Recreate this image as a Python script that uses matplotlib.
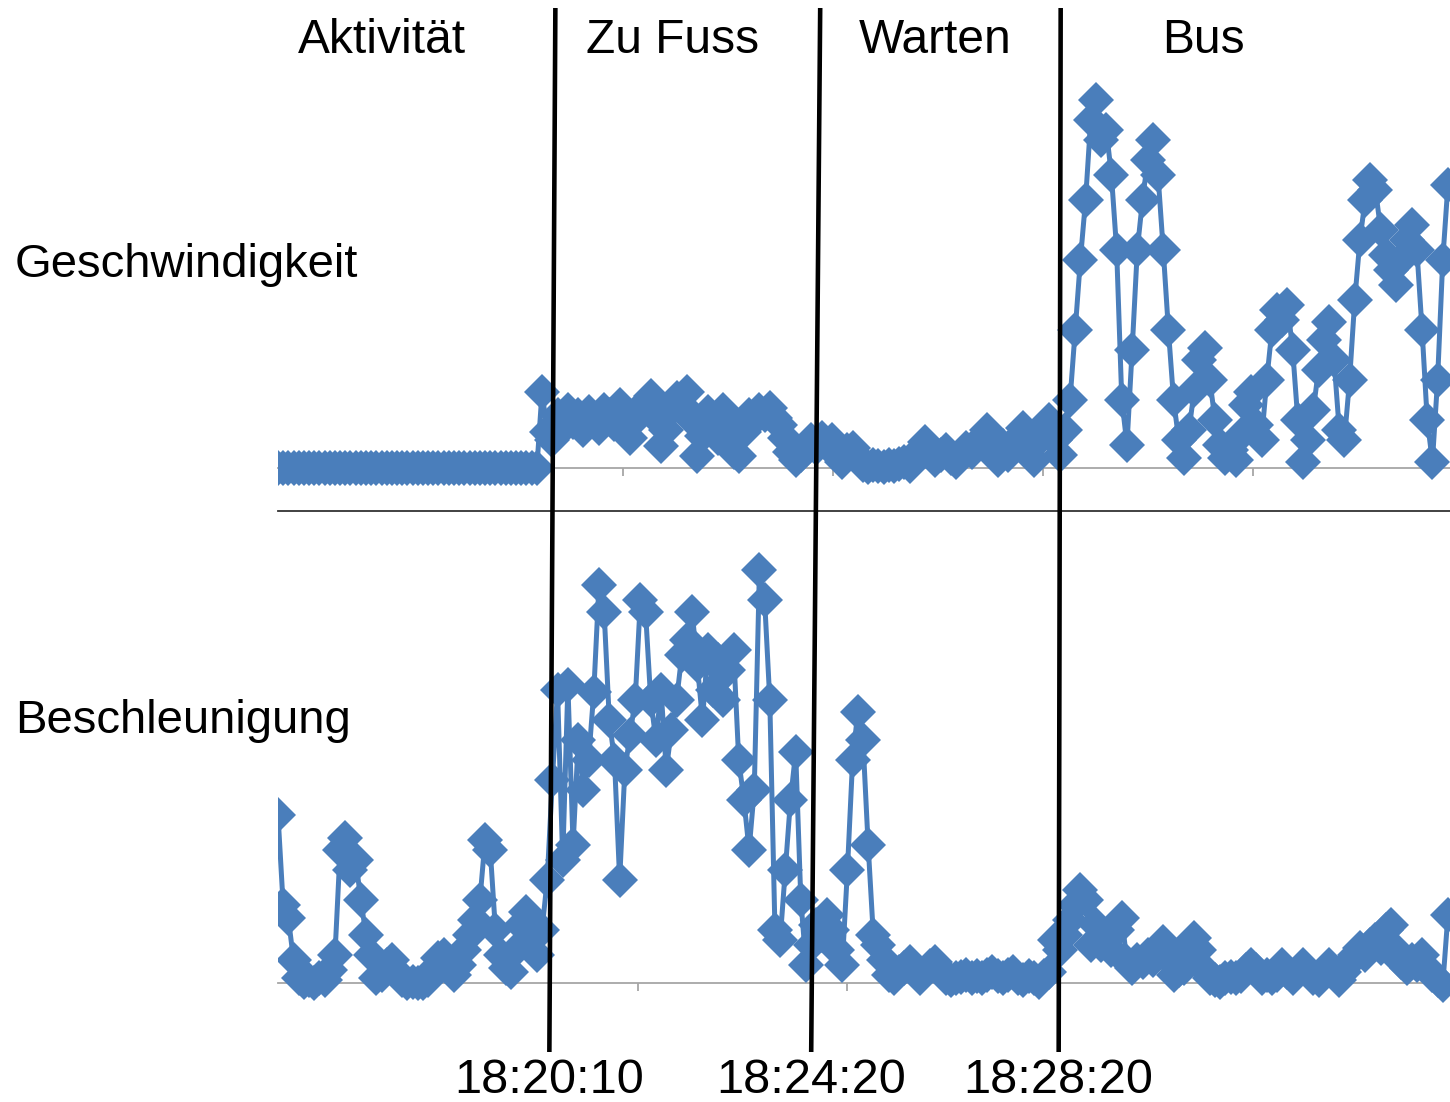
import matplotlib
matplotlib.use('Agg')
import matplotlib.pyplot as plt
from matplotlib.lines import Line2D
from datetime import datetime

# ---- data (one sample every 5 s, start 18:15:45) ----
start_time = '18:15:45'
step_s = 5

# speed (km/h)
speed = [
    0.0, 0.0, 0.0, 0.0, 0.0, 0.0, 0.0, 0.0, 0.0, 0.0,
    0.0, 0.0, 0.0, 0.0, 0.0, 0.0, 0.0, 0.0, 0.0, 0.0,
    0.0, 0.0, 0.0, 0.0, 0.0, 0.0, 0.0, 0.0, 0.0, 0.0,
    0.0, 0.0, 0.0, 0.0, 0.0, 0.0, 0.0, 0.0, 0.0, 0.0,
    0.0, 0.0, 0.0, 0.0, 0.0, 0.0, 0.0, 0.0, 0.0, 0.0,
    0.0, 9.5, 4.5,
    # zu Fuss
    3.5, 6.6, 5.0, 7.3, 5.8, 6.6, 4.8, 7.0, 6.0, 5.0,
    7.3, 6.6, 5.5, 7.9, 6.3, 3.8, 6.0, 7.3, 8.3, 9.0,
    6.3, 2.8, 4.8, 7.3, 8.8, 7.9, 9.5, 6.0, 1.5, 4.0,
    7.0, 6.0, 3.8, 7.3, 5.0, 2.0, 1.5, 4.5, 6.6, 6.0,
    7.3, 6.6, 7.5, 6.3, 5.4, 3.8, 2.0, 1.0, 1.6, 2.8,
    # warten
    3.5, 2.5, 3.8, 2.9, 3.5, 1.6, 0.8, 2.3, 2.5, 1.3,
    0.4, 0.1, 0.4, 0.3, 0.1, 0.4, 0.3, 0.5, 0.8, 0.3,
    1.3, 2.3, 3.3, 2.0, 1.0, 1.6, 2.3, 1.3, 0.8, 1.6,
    2.5, 2.0, 2.9, 3.8, 4.8, 2.5, 1.0, 2.8, 1.6, 2.5,
    3.8, 5.0, 2.5, 1.0, 3.5, 5.0, 6.0, 3.5,
    # bus
    1.6, 4.8, 8.5, 17.3, 26.0, 33.5, 43.5, 46.0, 41.0, 42.3,
    36.6, 27.3, 8.5, 2.9, 14.8, 27.3, 33.5, 38.5, 41.0, 36.6,
    27.3, 17.3, 8.5, 3.5, 1.3, 4.8, 9.8, 13.5, 15.0, 11.0,
    6.0, 2.9, 1.3, 2.3, 1.0, 4.1, 7.9, 9.5, 5.4, 3.5,
    11.0, 17.3, 19.8, 18.5, 20.4, 14.8, 6.0, 0.8, 3.5, 7.3,
    12.3, 16.0, 18.3, 13.5, 4.8, 3.5, 11.0, 21.0, 28.5, 33.5,
    36.0, 34.8, 29.8, 26.6, 24.8, 22.9, 26.0, 28.5, 30.4, 27.3,
    17.3, 6.0, 0.8, 11.0, 26.0, 35.4,
]

# acceleration (m/s^2)
accel = [
    1.68, 0.78, 0.65, 0.23, 0.05, 0.01, 0.03, 0.00, 0.05, 0.03,
    0.13, 0.28, 1.33, 1.45, 1.13, 1.23, 0.83, 0.48, 0.28, 0.05,
    0.08, 0.18, 0.23, 0.11, 0.03, 0.00, 0.01, 0.00, 0.00, 0.03,
    0.13, 0.25, 0.28, 0.15, 0.08, 0.18, 0.33, 0.48, 0.63, 0.83,
    1.43, 1.33, 0.53, 0.28, 0.15, 0.11, 0.33, 0.58, 0.71, 0.48,
    0.28, 0.53, 1.03,
    # zu Fuss
    2.03, 2.93, 1.23, 2.98, 1.38, 2.43, 1.93, 2.23, 2.91, 3.98,
    3.71, 2.63, 2.23, 1.03, 2.13, 2.48, 2.83, 3.83, 3.71, 2.83,
    2.43, 2.93, 2.13, 2.53, 2.83, 3.28, 3.43, 3.71, 3.18, 2.63,
    3.33, 2.93, 3.23, 2.83, 3.13, 3.33, 2.23, 1.83, 1.33, 1.93,
    4.13, 3.83, 2.83, 0.53, 0.43, 1.13, 1.83, 2.31, 0.83, 0.18,
    # warten
    0.38, 0.58, 0.48, 0.68, 0.53, 0.33, 0.18, 1.13, 2.23, 2.71,
    2.43, 1.38, 0.48, 0.38, 0.23, 0.08, 0.05, 0.11, 0.15, 0.21,
    0.13, 0.05, 0.11, 0.17, 0.21, 0.11, 0.05, 0.03, 0.05, 0.06,
    0.08, 0.05, 0.07, 0.05, 0.08, 0.11, 0.07, 0.05, 0.08, 0.11,
    0.05, 0.03, 0.07, 0.05, 0.01, 0.07, 0.11, 0.43,
    # bus
    0.33, 0.48, 0.63, 0.78, 0.93, 0.83, 0.38, 0.58, 0.38, 0.43,
    0.33, 0.53, 0.65, 0.21, 0.15, 0.23, 0.21, 0.28, 0.23, 0.33,
    0.41, 0.25, 0.08, 0.13, 0.15, 0.38, 0.45, 0.33, 0.13, 0.05,
    0.03, 0.01, 0.05, 0.06, 0.05, 0.07, 0.13, 0.18, 0.13, 0.05,
    0.08, 0.05, 0.08, 0.18, 0.11, 0.05, 0.11, 0.18, 0.11, 0.05,
    0.03, 0.11, 0.18, 0.11, 0.03, 0.11, 0.21, 0.28, 0.35, 0.28,
    0.38, 0.43, 0.35, 0.53, 0.58, 0.33, 0.21, 0.15, 0.23, 0.18,
    0.28, 0.15, 0.08, 0.03, -0.02, 0.68,
]

phases = ['Aktivität', 'Zu Fuss', 'Warten', 'Bus']
boundaries = ['18:20:10', '18:24:20', '18:28:20']
row_labels = ['Geschwindigkeit', 'Beschleunigung']

top_ticks = [130, 333, 536, 739, 942]      # seconds since start
bottom_ticks = [145, 348, 550, 753, 956]


def main():
    t0 = datetime.strptime(start_time, '%H:%M:%S')
    t = [i * step_s for i in range(len(speed))]
    t_acc = [i * step_s for i in range(len(accel))]
    t_bound = [(datetime.strptime(b, '%H:%M:%S') - t0).total_seconds() for b in boundaries]

    W, H = 1450, 1102
    fig = plt.figure(figsize=(W / 100, H / 100), dpi=100)
    plt.rcParams['font.family'] = ['Liberation Sans', 'DejaVu Sans']

    blue = '#4A7EBB'
    grey = '#A6A6A6'
    xlim = (0, 1132)

    # axes placed in pixel terms
    left, right = 278, 1450
    ax_top = fig.add_axes([left / W, 1 - 511 / H, (right - left) / W, 451 / H])
    ax_bot = fig.add_axes([left / W, 1 - 1040 / H, (right - left) / W, 528 / H])

    style = dict(color=blue, marker='D', markersize=18, markeredgewidth=0,
                 linewidth=3.6, solid_joinstyle='round')
    ax_top.plot(t, speed, **style)
    ax_bot.plot(t_acc, accel, **style)

    ax_top.set_ylim(-5.375, 51)
    ax_bot.set_ylim(-0.57, 4.71)

    for ax, ticks in [(ax_top, top_ticks), (ax_bot, bottom_ticks)]:
        ax.set_xlim(*xlim)
        for s in ['top', 'right', 'left']:
            ax.spines[s].set_visible(False)
        ax.spines['bottom'].set_position(('data', 0))
        ax.spines['bottom'].set_color(grey)
        ax.spines['bottom'].set_linewidth(1.3)
        ax.spines['bottom'].set_zorder(0)
        ax.set_yticks([])
        ax.set_xticks(ticks)
        ax.set_xticklabels([])
        ax.tick_params(axis='x', direction='out', length=6, width=1.3, color=grey)
        ax.patch.set_alpha(0)

    # black separator under the speed panel
    fig.add_artist(Line2D([left / W, 1.0], [1 - 511 / H, 1 - 511 / H],
                          transform=fig.transFigure, color='#333333', lw=1.3))

    # slightly hand-drawn phase boundaries
    tilt = [(3, -3), (9, 0), (1, -1)]
    inv = fig.transFigure.inverted()
    for tb, (dtop, dbot) in zip(t_bound, tilt):
        xp = ax_top.transData.transform((tb, 0))[0]
        (x1, y1) = inv.transform((xp + dtop, H - 8))
        (x2, y2) = inv.transform((xp + dbot, H - 1052))
        fig.add_artist(Line2D([x1, x2], [y1, y2], transform=fig.transFigure,
                              color='black', lw=3.3, solid_capstyle='butt'))

    phase_x = [382, 673, 935, 1203]
    for name, px in zip(phases, phase_x):
        fig.text(px / W, 1 - 53 / H, name, ha='center', va='baseline', fontsize=34.5)

    for name, py in zip(row_labels, [277, 733]):
        fig.text(15 / W, 1 - py / H, name, ha='left', va='baseline', fontsize=34)

    for lab, tb, dbot in zip(boundaries, t_bound, [-3, 0, -1]):
        xp = ax_top.transData.transform((tb, 0))[0] + dbot
        fig.text(xp / W, 1 - 1093 / H, lab, ha='center', va='baseline', fontsize=35)

    fig.savefig('out.png', dpi=100, facecolor='white')


if __name__ == '__main__':
    main()
